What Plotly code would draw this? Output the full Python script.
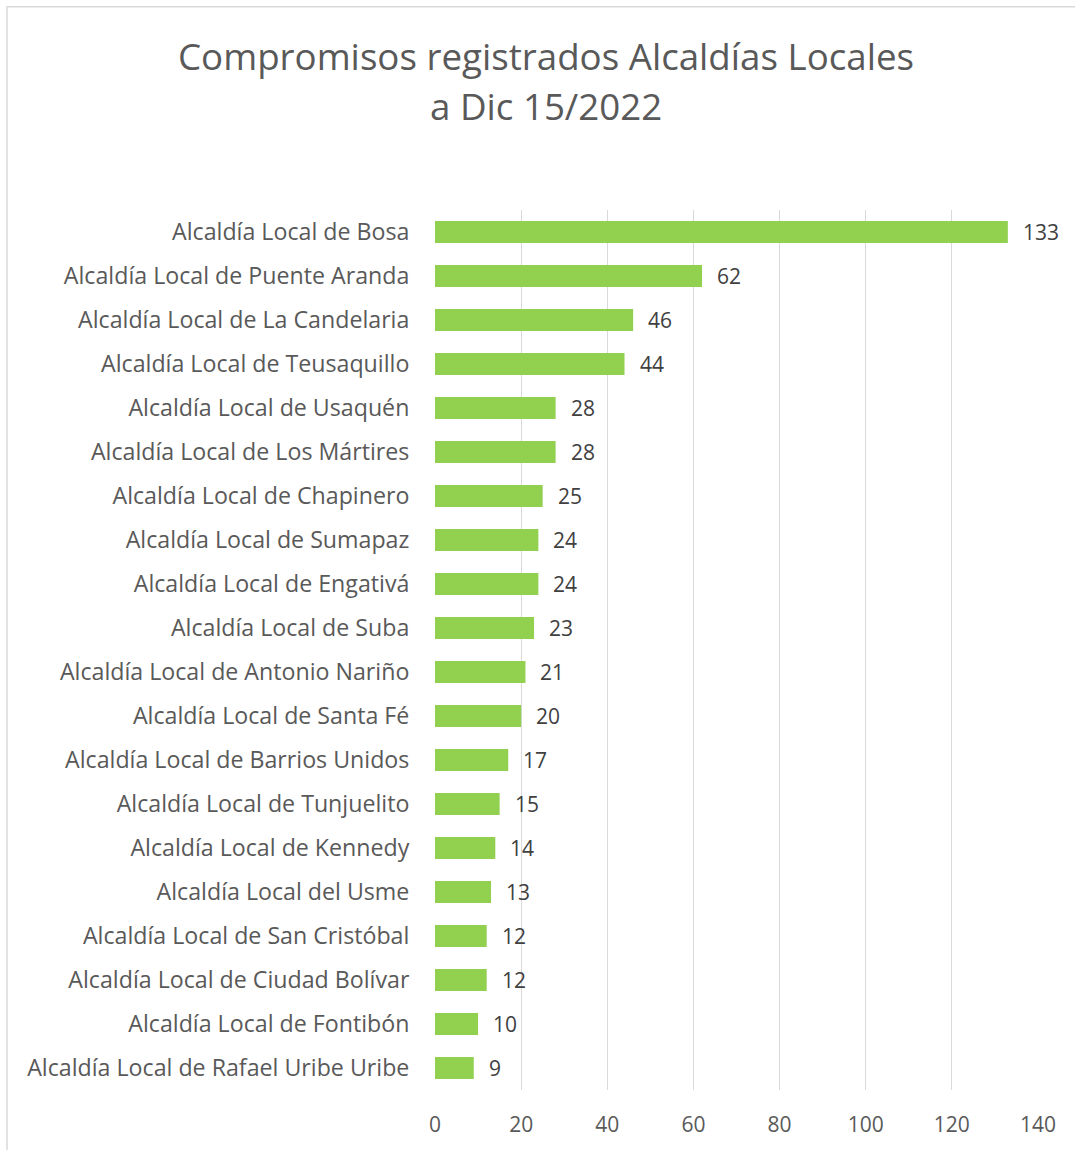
import plotly.graph_objects as go

categories = [
    "Alcaldía Local de Bosa",
    "Alcaldía Local de Puente Aranda",
    "Alcaldía Local de La Candelaria",
    "Alcaldía Local de Teusaquillo",
    "Alcaldía Local de Usaquén",
    "Alcaldía Local de Los Mártires",
    "Alcaldía Local de Chapinero",
    "Alcaldía Local de Sumapaz",
    "Alcaldía Local de Engativá",
    "Alcaldía Local de Suba",
    "Alcaldía Local de Antonio Nariño",
    "Alcaldía Local de Santa Fé",
    "Alcaldía Local de Barrios Unidos",
    "Alcaldía Local de Tunjuelito",
    "Alcaldía Local de Kennedy",
    "Alcaldía Local del Usme",
    "Alcaldía Local de San Cristóbal",
    "Alcaldía Local de Ciudad Bolívar",
    "Alcaldía Local de Fontibón",
    "Alcaldía Local de Rafael Uribe Uribe",
]
values = [133, 62, 46, 44, 28, 28, 25, 24, 24, 23, 21, 20, 17, 15, 14, 13, 12, 12, 10, 9]
x_ticks = [0, 20, 40, 60, 80, 100, 120, 140]
title_lines = ["Compromisos registrados Alcaldías Locales", "a Dic 15/2022"]

FONT = "Open Sans"
GRAY = "#595959"
W, H = 1075, 1150
ML, MR, MT, MB = 435, 37, 210, 57
pw = W - ML - MR
ph = H - MT - MB


def px_x(x):
    return (x - ML) / pw


def px_y(y):
    return (H - MB - y) / ph


fig = go.Figure()
fig.add_trace(go.Bar(
    x=values, y=categories, orientation="h",
    marker=dict(color="#92D050", line=dict(width=0)),
    hoverinfo="x+y",
))

for c, v in zip(categories, values):
    fig.add_annotation(x=v, y=c, text=str(v), showarrow=False, xanchor="left",
                       xshift=13, font=dict(family=FONT, size=21, color="#404040"))

# title lines
for line, yc in zip(title_lines, [55, 106]):
    fig.add_annotation(x=px_x(546), y=px_y(yc), xref="paper", yref="paper",
                       text=line, showarrow=False, xanchor="center", yanchor="middle",
                       font=dict(family=FONT, size=36.7, color=GRAY))

# chart border (top and left visible)
fig.add_shape(type="rect", xref="paper", yref="paper",
              x0=px_x(7), x1=px_x(1090),
              y0=px_y(1165), y1=px_y(6),
              line=dict(color="#D9D9D9", width=1.5), fillcolor="rgba(0,0,0,0)", layer="below")

fig.update_layout(
    width=W, height=H,
    margin=dict(l=ML, r=MR, t=MT, b=MB, pad=0),
    paper_bgcolor="white", plot_bgcolor="white",
    bargap=0.5,
    showlegend=False,
    xaxis=dict(
        range=[0, 140], tickvals=x_ticks, showgrid=True, gridcolor="#D9D9D9", gridwidth=1,
        zeroline=False, showline=False, ticks="outside", ticklen=16, tickcolor="white",
        tickfont=dict(family=FONT, size=21, color=GRAY),
    ),
    yaxis=dict(
        categoryorder="array", categoryarray=categories[::-1],
        showgrid=False, zeroline=False, showline=False, ticks="outside", ticklen=20,
        tickcolor="white",
        tickfont=dict(family=FONT, size=23.2, color=GRAY),
    ),
)

fig.write_html("out.html", post_script="document.body.style.margin='0';",
               config={"displayModeBar": False})
